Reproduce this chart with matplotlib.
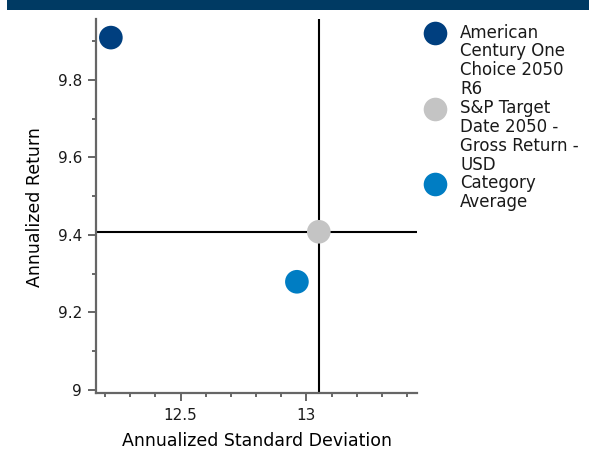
import matplotlib
matplotlib.use("Agg")
import matplotlib.pyplot as plt
from matplotlib.patches import Rectangle
from matplotlib.lines import Line2D

plt.rcParams['font.family'] = ['DejaVu Sans']

# Risk / return data
names = ["American\nCentury One\nChoice 2050\nR6",
         "S&P Target\nDate 2050 -\nGross Return -\nUSD",
         "Category\nAverage"]
std_dev = [12.223, 13.049, 12.962]
returns = [9.909, 9.408, 9.279]
colors = ["#003f7f", "#c4c4c4", "#007dc3"]

# benchmark crosshair
bench_x = std_dev[1]
bench_y = returns[1]

x_major = [12.5, 13.0]
x_major_labels = ["12.5", "13"]
y_major = [9.0, 9.2, 9.4, 9.6, 9.8]
y_major_labels = ["9", "9.2", "9.4", "9.6", "9.8"]

W, H = 589, 451
fig = plt.figure(figsize=(W / 100, H / 100), dpi=100)

# header band
fig.add_artist(Rectangle((7 / W, 1 - 10 / H), 1, 10 / H, transform=fig.transFigure,
                         facecolor="#003a63", edgecolor="none"))

ax = fig.add_axes([96 / W, 1 - 393 / H, (417 - 96) / W, (393 - 19) / H])
ax.set_xlim(12.164, 13.439)
ax.set_ylim(8.992, 9.957)

ax.axvline(bench_x, color="black", lw=1.5, zorder=1)
ax.axhline(bench_y, color="black", lw=1.5, zorder=1)
ax.scatter(std_dev, returns, s=290, c=colors, edgecolors="none", zorder=3)

spine_col = "#666666"
text_col = "#1a1a1a"
for side in ["top", "right"]:
    ax.spines[side].set_visible(False)
for side in ["left", "bottom"]:
    ax.spines[side].set_color(spine_col)
    ax.spines[side].set_linewidth(1.6)

ax.set_xticks(x_major)
ax.set_xticklabels(x_major_labels)
ax.set_xticks([12.2, 12.3, 12.4, 12.6, 12.7, 12.8, 12.9, 13.1, 13.2, 13.3, 13.4], minor=True)
ax.set_yticks(y_major)
ax.set_yticklabels(y_major_labels)
ax.set_yticks([9.1, 9.3, 9.5, 9.7, 9.9], minor=True)
ax.tick_params(which="major", length=6, width=1.4, color=spine_col,
               labelsize=11, labelcolor=text_col)
ax.tick_params(axis="y", which="major", pad=4)
ax.tick_params(axis="x", which="major", pad=5)
ax.tick_params(which="minor", length=3.2, width=1.4, color=spine_col)

ax.set_xlabel("Annualized Standard Deviation", fontsize=12.5, color="black")
ax.xaxis.set_label_coords(0.5, -(446 - 393) / (393 - 19), transform=ax.transAxes)
ax.xaxis.label.set_va("baseline")
ax.set_ylabel("Annualized Return", fontsize=12.5, color="black")
ax.yaxis.set_label_coords(35 / W, 1 - 207.5 / H, transform=fig.transFigure)
ax.yaxis.label.set_va("center")

# legend: one marker per series, label lines stacked at a fixed pitch
pitch = 18.85
first_baseline = 37.6
line_idx = 0
for name, col in zip(names, colors):
    base = first_baseline + pitch * line_idx
    fig.add_artist(Line2D([435 / W], [1 - (base - 4.5) / H], marker="o", markersize=17,
                          color=col, markeredgecolor="none", linestyle="none",
                          transform=fig.transFigure))
    for line in name.split("\n"):
        fig.text(460 / W, 1 - (first_baseline + pitch * line_idx) / H, line,
                 fontsize=12, color=text_col, va="baseline", ha="left")
        line_idx += 1

fig.savefig("out.png", dpi=100)
